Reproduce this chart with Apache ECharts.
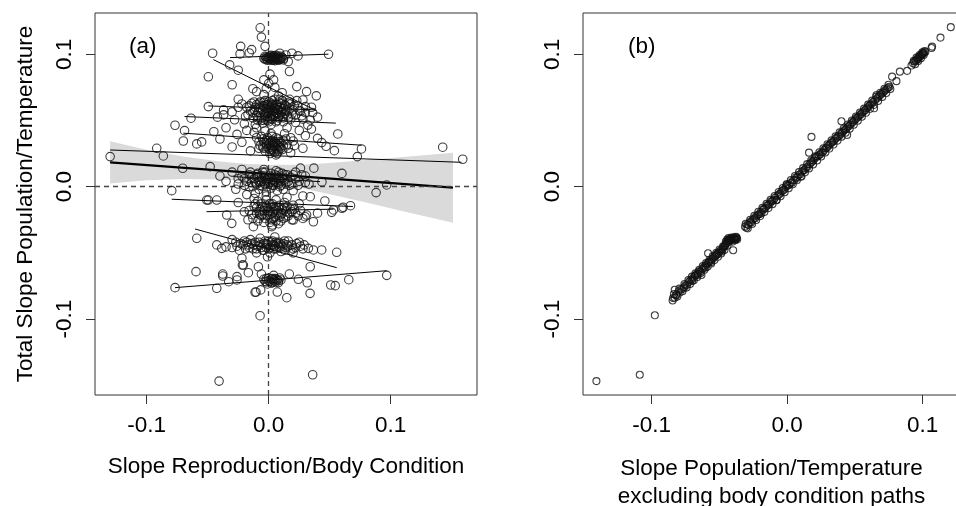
<!DOCTYPE html>
<html>
<head>
<meta charset="utf-8">
<script src="https://cdn.jsdelivr.net/npm/echarts@6/dist/echarts.min.js"></script>
<style>
html,body{margin:0;padding:0;background:#fff;}
#chart{width:956px;height:506px;}
</style>
</head>
<body>
<div id="chart"></div>
<script>
// ---------- tick labels ----------
const tickValues = [-0.1, 0.0, 0.1];
const panelLabels = ['(a)', '(b)'];
const yTitle = 'Total Slope Population/Temperature';
const xTitleA = 'Slope Reproduction/Body Condition';
const xTitleB = 'Slope Population/Temperature\nexcluding body condition paths';

// ---------- panel (a): points [slope reproduction/body condition, total slope] ----------
const groupTop = [
  [-0.007,0.120],[-0.006,0.113],[-0.003,0.106],[-0.046,0.1008],[-0.023,0.106],[-0.0235,0.1003],
  [-0.016,0.101],[-0.014,0.1035],[0.009,0.1008],[0.019,0.1008],[0.024,0.0988],[0.049,0.100],
  [0.012,0.0958],[0.016,0.0945],[0.017,0.087],[0.014,0.0995],
  [-0.004,0.097],[-0.002,0.098],[0.000,0.0965],[0.001,0.0985],[0.002,0.097],[0.003,0.0955],
  [0.004,0.098],[0.005,0.0965],[0.006,0.0975],[0.007,0.096],[0.008,0.0985],[0.009,0.097],
  [0.010,0.0965],[-0.001,0.0955],[0.002,0.0992],[0.004,0.0958],[0.006,0.0992],[-0.003,0.0985],
  [0.000,0.0978],[0.008,0.0955],[0.011,0.0975],[0.003,0.0968],
  [-0.002,0.0965],[0.001,0.0972],[0.003,0.0982],[0.005,0.0975],[0.007,0.0978],[0.009,0.0962],
  [0.001,0.0958],[0.006,0.0962],
  [-0.001,0.0975],[0.002,0.0962],[0.004,0.0988],[0.007,0.0968],[0.010,0.0985],[0.012,0.0968],
  [-0.003,0.0962],[0.005,0.0952]
];
const groupUpper = [
  [-0.032,0.092],[-0.025,0.088],[-0.0495,0.083],[-0.030,0.077],[-0.004,0.0807],[0.004,0.0807],
  [-0.002,0.074],[0.005,0.075],[0.011,0.071],[0.023,0.0756],[0.031,0.0718],[0.039,0.0686],
  [0.017,0.064],[-0.013,0.074],[-0.010,0.0718],[-0.025,0.066],[0.001,0.085],[0.000,0.078],
  [-0.004,0.0695],[0.008,0.0685],[0.028,0.0655],[0.035,0.060]
];
const group060 = [
  [-0.0495,0.0605],[-0.037,0.058],[-0.037,0.0542],[-0.0637,0.0517],[-0.042,0.0525],[-0.030,0.0565],
  [-0.028,0.0505],[-0.022,0.0625],[-0.020,0.0475],[0.034,0.0504],[0.036,0.056],[0.030,0.0605],
  [0.027,0.0535],[0.022,0.0485],[0.018,0.0625],[0.025,0.0575],[0.040,0.0525],[0.032,0.0465],
  [-0.017,0.0545],[-0.025,0.060],
  [-0.012,0.058],[-0.010,0.062],[-0.010,0.054],[-0.009,0.050],[-0.008,0.060],[-0.007,0.064],
  [-0.007,0.056],[-0.006,0.052],[-0.005,0.058],[-0.005,0.048],[-0.004,0.061],[-0.004,0.055],
  [-0.003,0.065],[-0.003,0.051],[-0.002,0.059],[-0.002,0.056],[-0.001,0.062],[-0.001,0.053],
  [0.000,0.058],[0.000,0.049],[0.001,0.060],[0.001,0.056],[0.002,0.063],[0.002,0.054],
  [0.003,0.058],[0.003,0.051],[0.004,0.061],[0.004,0.057],[0.005,0.054],[0.005,0.066],
  [0.006,0.059],[0.006,0.049],[0.007,0.062],[0.007,0.055],[0.008,0.058],[0.008,0.052],
  [0.009,0.060],[0.010,0.056],[0.010,0.063],[0.011,0.053],[0.012,0.059],[0.013,0.055],
  [0.014,0.061],[0.012,0.049],[-0.011,0.047],[0.015,0.058],[0.016,0.052],[-0.014,0.063],
  [-0.013,0.052],[-0.011,0.060],[-0.009,0.056],[-0.008,0.063],[-0.006,0.050],[-0.005,0.061],
  [-0.003,0.054],[-0.002,0.062],[-0.001,0.050],[0.000,0.055],[0.000,0.064],[0.001,0.052],
  [0.002,0.058],[0.003,0.062],[0.004,0.053],[0.005,0.059],[0.006,0.056],[0.007,0.050],
  [0.008,0.064],[0.009,0.054],[0.011,0.057],[0.013,0.062],[0.015,0.054],[0.017,0.059],
  [0.019,0.055],[0.021,0.061],[-0.015,0.057],[-0.018,0.060],[0.002,0.047],[0.009,0.066],
  [-0.019,0.053],[-0.016,0.061],[-0.013,0.056],[-0.012,0.064],[-0.009,0.052],[-0.007,0.059],
  [-0.004,0.064],[-0.004,0.050],[-0.001,0.057],[0.000,0.061],[0.002,0.051],[0.003,0.065],
  [0.004,0.055],[0.006,0.062],[0.007,0.058],[0.008,0.053],[0.010,0.060],[0.011,0.065],
  [0.012,0.052],[0.014,0.057],[0.016,0.063],[0.018,0.051],[0.020,0.058],[0.022,0.054],
  [0.024,0.061],[0.026,0.057],[0.028,0.051],[0.030,0.056],[0.017,0.066],[0.023,0.065]
];
const group030 = [
  [-0.0768,0.0464],[-0.069,0.0423],[-0.070,0.0345],[-0.059,0.0323],[-0.055,0.0338],[-0.045,0.0415],
  [-0.040,0.036],[-0.035,0.0445],[-0.030,0.030],[-0.026,0.0395],[-0.022,0.0335],[-0.018,0.0425],
  [-0.015,0.027],[0.0566,0.0398],[0.0434,0.0333],[0.076,0.0285],[0.0538,0.0272],[0.0726,0.0227],
  [0.030,0.0385],[0.025,0.0425],[0.020,0.0345],[0.035,0.0435],[0.028,0.029],[0.018,0.0255],
  [0.040,0.0365],[-0.010,0.0445],[0.015,0.0445],[0.047,0.0305],
  [-0.005,0.030],[-0.004,0.034],[-0.003,0.027],[-0.002,0.032],[-0.001,0.037],[0.000,0.029],
  [0.001,0.033],[0.001,0.025],[0.002,0.030],[0.003,0.035],[0.003,0.028],[0.004,0.031],
  [0.005,0.026],[0.005,0.034],[0.006,0.029],[0.007,0.032],[0.008,0.027],[0.008,0.036],
  [0.009,0.030],[0.010,0.033],[-0.006,0.038],[0.002,0.040],[-0.008,0.034],[0.011,0.028],
  [0.006,0.024],[-0.003,0.042],
  [-0.004,0.029],[-0.002,0.035],[0.000,0.032],[0.001,0.028],[0.002,0.034],[0.003,0.031],
  [0.004,0.027],[0.005,0.030],[0.006,0.033],[0.007,0.028],[0.009,0.034],[0.012,0.031],
  [0.014,0.036],[-0.007,0.031],[-0.010,0.037],[0.016,0.029],[0.013,0.040],[-0.012,0.041],
  [-0.008,0.029],[-0.005,0.036],[-0.002,0.030],[0.000,0.035],[0.002,0.027],[0.004,0.033],
  [0.006,0.037],[0.008,0.031],[0.010,0.029],[0.012,0.035],[0.015,0.032],[0.018,0.037],
  [0.021,0.031],[0.003,0.038],[0.007,0.025]
];
const group000 = [
  [-0.130,0.0227],[-0.0918,0.029],[-0.0864,0.0232],[-0.0705,0.0139],[-0.048,0.0151],[-0.0795,-0.003],
  [0.1426,0.0298],[0.159,0.0207],[0.088,-0.0045],[0.0967,0.0013],[0.0436,0.0036],[0.060,0.010],
  [0.037,0.014],
  [-0.040,0.008],[-0.035,0.004],[-0.030,0.011],[-0.027,-0.002],[-0.025,0.006],[-0.022,0.013],
  [-0.020,0.001],[-0.018,-0.006],[-0.016,0.009],[-0.014,0.003],[0.018,0.007],[0.020,-0.003],
  [0.022,0.011],[0.025,0.004],[0.028,-0.007],[0.030,0.008],[0.033,0.002],[0.026,0.014],
  [0.015,-0.008],[-0.012,-0.009],
  [-0.012,0.006],[-0.010,0.002],[-0.009,0.010],[-0.008,-0.002],[-0.007,0.005],[-0.006,0.008],
  [-0.005,0.000],[-0.004,0.004],[-0.003,0.011],[-0.002,-0.004],[-0.001,0.006],[0.000,0.002],
  [0.001,0.008],[0.002,-0.001],[0.003,0.005],[0.004,0.001],[0.005,0.009],[0.006,0.003],
  [0.007,-0.003],[0.008,0.006],[0.009,0.000],[0.010,0.004],[0.011,0.010],[0.012,-0.002],
  [0.013,0.005],[0.014,0.002],[-0.011,-0.005],[0.006,0.012],[-0.004,0.013],
  [-0.011,0.003],[-0.009,0.007],[-0.007,0.001],[-0.006,0.004],[-0.004,0.008],[-0.003,0.002],
  [-0.002,0.005],[0.000,0.006],[0.001,0.003],[0.002,0.007],[0.003,0.001],[0.004,0.005],
  [0.005,0.004],[0.007,0.008],[0.008,0.002],[0.009,0.005],[0.011,0.006],[0.013,0.009],
  [0.016,0.004],[-0.014,0.007],[-0.016,0.000],[0.019,0.002],[-0.020,0.006],[0.022,0.006],
  [-0.025,0.002],[-0.022,0.008],[-0.018,0.004],[-0.015,0.011],[-0.013,0.000],[-0.010,0.009],
  [-0.008,0.004],[-0.005,0.011],[-0.003,0.007],[-0.001,0.000],[0.002,0.010],[0.004,0.003],
  [0.006,0.007],[0.008,0.011],[0.010,0.001],[0.012,0.007],[0.015,0.009],[0.017,0.001],
  [0.020,0.009],[0.024,0.001],[0.027,0.009],[0.030,0.003]
];
const groupM020 = [
  [-0.0508,-0.0101],[-0.0426,-0.0101],[-0.0344,-0.0214],[-0.0303,-0.0277],[-0.0495,-0.0101],
  [0.046,-0.0108],[0.034,-0.0076],[0.0516,-0.0194],[0.060,-0.0163],[0.0298,-0.0227],[0.0189,-0.0189],
  [0.0202,-0.0252],[-0.0126,-0.0302],[0.0025,-0.0302],[0.061,-0.0156],[0.067,-0.0144],[0.053,-0.0176],
  [0.0366,-0.0265],[0.031,-0.0214],[-0.025,-0.012],[-0.020,-0.019],[-0.017,-0.025],[0.025,-0.013],
  [0.040,-0.020],
  [-0.012,-0.015],[-0.010,-0.020],[-0.009,-0.011],[-0.008,-0.024],[-0.007,-0.017],[-0.006,-0.013],
  [-0.005,-0.021],[-0.004,-0.027],[-0.003,-0.016],[-0.002,-0.010],[-0.001,-0.022],[0.000,-0.018],
  [0.001,-0.013],[0.002,-0.025],[0.003,-0.020],[0.004,-0.015],[0.005,-0.023],[0.006,-0.010],
  [0.007,-0.018],[0.008,-0.028],[0.009,-0.014],[0.010,-0.021],[0.011,-0.017],[0.012,-0.024],
  [0.013,-0.012],[0.014,-0.019],[0.015,-0.015],[0.003,-0.029],[-0.002,-0.007],[0.006,-0.026],
  [-0.010,-0.016],[-0.008,-0.019],[-0.006,-0.022],[-0.004,-0.018],[-0.002,-0.014],[-0.001,-0.019],
  [0.001,-0.021],[0.002,-0.016],[0.004,-0.019],[0.005,-0.017],[0.006,-0.021],[0.008,-0.016],
  [0.009,-0.023],[0.011,-0.020],[0.013,-0.016],[0.016,-0.022],[0.018,-0.017],[-0.014,-0.021],
  [0.020,-0.014],[0.022,-0.020],
  [-0.016,-0.018],[-0.013,-0.024],[-0.011,-0.013],[-0.009,-0.026],[-0.007,-0.021],[-0.005,-0.015],
  [-0.003,-0.024],[-0.001,-0.016],[0.001,-0.027],[0.003,-0.013],[0.004,-0.024],[0.006,-0.015],
  [0.008,-0.020],[0.010,-0.026],[0.012,-0.014],[0.014,-0.023],[0.017,-0.020],[0.019,-0.025],
  [0.021,-0.017],[0.024,-0.022],[0.026,-0.018],[0.028,-0.024]
];
const groupM045 = [
  [-0.059,-0.039],[-0.0426,-0.044],[-0.0385,-0.0466],[-0.022,-0.0541],[-0.0208,-0.0592],[-0.0085,-0.0605],
  [0.0557,-0.0496],[0.0434,-0.0478],[0.0325,-0.0466],[0.034,-0.0605],[0.0366,-0.0478],[-0.030,-0.040],
  [-0.026,-0.045],[0.025,-0.042],[0.020,-0.050],[0.028,-0.047],[-0.035,-0.0455],
  [-0.020,-0.041],[-0.017,-0.044],[-0.015,-0.040],[-0.013,-0.047],[-0.011,-0.042],[-0.009,-0.045],
  [-0.007,-0.039],[-0.005,-0.048],[-0.004,-0.043],[-0.002,-0.046],[0.000,-0.041],[0.001,-0.050],
  [0.003,-0.044],[0.004,-0.047],[0.006,-0.042],[0.008,-0.045],[0.010,-0.049],[0.012,-0.043],
  [0.014,-0.046],[0.016,-0.041],[0.018,-0.048],[-0.001,-0.053],[0.005,-0.038],[-0.010,-0.050],
  [-0.016,-0.046],[-0.012,-0.044],[-0.008,-0.042],[-0.006,-0.046],[-0.003,-0.041],[-0.001,-0.044],
  [0.001,-0.046],[0.002,-0.042],[0.004,-0.044],[0.006,-0.047],[0.007,-0.043],[0.009,-0.046],
  [0.011,-0.045],[0.013,-0.048],[0.015,-0.044],[0.019,-0.044],[0.022,-0.046],[-0.019,-0.047],
  [-0.023,-0.043],
  [-0.030,-0.046],[-0.027,-0.042],[-0.024,-0.048],[-0.021,-0.044],[-0.018,-0.042],[-0.014,-0.043],
  [-0.010,-0.047],[-0.007,-0.044],[-0.004,-0.048],[-0.002,-0.043],[0.000,-0.047],[0.003,-0.041],
  [0.005,-0.045],[0.008,-0.042],[0.010,-0.044],[0.013,-0.041],[0.016,-0.045],[0.020,-0.047],
  [0.023,-0.043],[0.026,-0.045],[0.029,-0.044]
];
const groupM070 = [
  [-0.0596,-0.0642],[-0.0768,-0.0763],[-0.0426,-0.0768],[-0.0377,-0.066],[-0.0377,-0.0675],[-0.0328,-0.0718],
  [-0.026,-0.0705],[-0.0216,-0.0592],[-0.0167,-0.065],[-0.0104,-0.0796],[-0.0066,-0.078],[-0.0071,-0.0975],
  [0.007,-0.0796],[0.0148,-0.0839],[0.0169,-0.066],[0.0243,-0.070],[0.0316,-0.0726],[0.0339,-0.0806],
  [0.0508,-0.0743],[0.0545,-0.0748],[0.0656,-0.0703],[0.0967,-0.067],[0.036,-0.1421],[-0.0407,-0.1469],
  [-0.026,-0.068],[-0.0112,-0.0798],
  [-0.004,-0.070],[-0.002,-0.072],[0.000,-0.069],[0.001,-0.0715],[0.002,-0.070],[0.003,-0.0725],
  [0.004,-0.0705],[0.005,-0.0695],[0.006,-0.072],[0.007,-0.0705],[0.008,-0.071],[-0.001,-0.0735],
  [0.004,-0.067],[0.009,-0.069],[-0.006,-0.066],
  [-0.002,-0.0695],[0.000,-0.0712],[0.002,-0.0728],[0.003,-0.0695],[0.005,-0.0715],[0.006,-0.0700],
  [0.008,-0.0725],[0.010,-0.0705],[-0.003,-0.0715]
];

// per-group fitted lines: [[x1,y1],[x2,y2]]
const groupLines = [
  [[-0.0317,0.0975],[0.0489,0.1001]],
  [[-0.0454,0.0960],[0.0390,0.0574]],
  [[-0.0495,0.0610],[0.0380,0.0580]],
  [[-0.0690,0.0530],[0.0550,0.0480]],
  [[-0.0700,0.0404],[0.0762,0.0313]],
  [[-0.1300,0.0277],[0.1580,0.0184]],
  [[-0.0290,0.0076],[0.0420,0.0038]],
  [[-0.0795,-0.0095],[0.0690,-0.0150]],
  [[-0.0510,-0.0189],[0.0530,-0.0170]],
  [[-0.0604,-0.0320],[0.0557,-0.0612]],
  [[-0.0768,-0.0763],[0.0967,-0.0635]]
];

// overall fit and its confidence band
const fitX = [-0.130, 0.151];
const fitY = [0.0184, -0.0008];
const bandX    = [-0.130, -0.100, -0.070, -0.040, -0.020, 0.000, 0.026, 0.050, 0.080, 0.110, 0.151];
const bandLow  = [0.0024, 0.0049, 0.0058, 0.0055, 0.0045, 0.0025, -0.0010, -0.0057, -0.0119, -0.0185, -0.0273];
const bandHigh = [0.0344, 0.0279, 0.0228, 0.0191, 0.0173, 0.0165, 0.0166, 0.0179, 0.0201, 0.0225, 0.0257];

// ---------- panel (b): points [slope excluding body condition paths, total slope] ----------
const bOutliers = [[-0.0976,-0.0972],[-0.1087,-0.1421],[-0.1407,-0.1469]];
const bLower = [
  [-0.0841,-0.0841],[-0.0829,-0.0779],[-0.0829,-0.0839],[-0.0815,-0.0815],[-0.0800,-0.0790],[-0.0792,-0.0800],
  [-0.0780,-0.0775],[-0.0765,-0.0770],[-0.0750,-0.0745],[-0.0738,-0.0742],[-0.0725,-0.0720],[-0.0712,-0.0706],
  [-0.0700,-0.0698],[-0.0690,-0.0685],[-0.0680,-0.0672],[-0.0670,-0.0668],[-0.0660,-0.0655],[-0.0650,-0.0640],
  [-0.0640,-0.0642],[-0.0632,-0.0667],[-0.0625,-0.0620],[-0.0615,-0.0612],[-0.0605,-0.0598],[-0.0595,-0.0590],
  [-0.0583,-0.0503],[-0.0583,-0.0575],[-0.0575,-0.0568],[-0.0565,-0.0560],[-0.0555,-0.0548],[-0.0545,-0.0540],
  [-0.0535,-0.0528],[-0.0525,-0.0520],[-0.0515,-0.0508],[-0.0505,-0.0500],[-0.0495,-0.0488],[-0.0485,-0.0478],
  [-0.0475,-0.0470],[-0.0468,-0.0455],[-0.0460,-0.0450],[-0.0455,-0.0440],[-0.0450,-0.0430],[-0.0445,-0.0425],
  [-0.0440,-0.0418],[-0.0435,-0.0410],[-0.0430,-0.0402],[-0.0425,-0.0398],[-0.0420,-0.0405],[-0.0415,-0.0395],
  [-0.0410,-0.0400],[-0.0405,-0.0392],[-0.0400,-0.0398],[-0.0395,-0.0393],[-0.0390,-0.0396],[-0.0385,-0.0392],
  [-0.0380,-0.0390],[-0.0375,-0.0394],[-0.0398,-0.0480],[-0.0440,-0.0445],[-0.0480,-0.0490],[-0.0520,-0.0515],
  [-0.0560,-0.0570],[-0.0600,-0.0610],[-0.0660,-0.0665],[-0.0700,-0.0712],[-0.0760,-0.0760],[-0.0820,-0.0820],
  [-0.0845,-0.0860],[-0.0835,-0.0812],[-0.0810,-0.0830],[-0.0795,-0.0770],[-0.0772,-0.0790],[-0.0757,-0.0735],
  [-0.0742,-0.0762],[-0.0728,-0.0705],[-0.0716,-0.0735],[-0.0702,-0.0680],[-0.0688,-0.0708],[-0.0676,-0.0655],
  [-0.0662,-0.0682],[-0.0648,-0.0628],[-0.0636,-0.0652],[-0.0622,-0.0600],[-0.0610,-0.0628],[-0.0598,-0.0578],
  [-0.0586,-0.0604],[-0.0572,-0.0552],[-0.0560,-0.0580],[-0.0548,-0.0525],[-0.0536,-0.0555],[-0.0522,-0.0500],
  [-0.0510,-0.0530],[-0.0498,-0.0475],[-0.0486,-0.0505],[-0.0472,-0.0450],[-0.0462,-0.0478],[-0.0452,-0.0415],
  [-0.0442,-0.0400],[-0.0432,-0.0388],[-0.0422,-0.0412],[-0.0412,-0.0385],[-0.0402,-0.0415],[-0.0392,-0.0382],
  [-0.0382,-0.0405],[-0.0372,-0.0385],[-0.0368,-0.0398],[-0.0378,-0.0378]
];
const bUpper = [
  [-0.0310,-0.0302],[-0.0300,-0.0310],[-0.0292,-0.0285],[-0.0285,-0.0290],[-0.0275,-0.0268],[-0.0265,-0.0270],
  [-0.0255,-0.0250],[-0.0245,-0.0240],[-0.0235,-0.0238],[-0.0225,-0.0220],[-0.0215,-0.0212],[-0.0205,-0.0208],
  [-0.0195,-0.0192],[-0.0189,-0.0201],[-0.0180,-0.0175],[-0.0170,-0.0168],[-0.0160,-0.0162],[-0.0150,-0.0145],
  [-0.0140,-0.0138],[-0.0130,-0.0132],[-0.0120,-0.0115],[-0.0110,-0.0108],[-0.0100,-0.0102],[-0.0090,-0.0085],
  [-0.0078,-0.0101],[-0.0070,-0.0068],[-0.0060,-0.0058],[-0.0050,-0.0052],[-0.0040,-0.0035],[-0.0030,-0.0028],
  [-0.0020,-0.0022],[-0.0010,-0.0005],[-0.0004,0.0013],[0.0005,0.0008],[0.0015,0.0012],[0.0025,0.0028],
  [0.0035,0.0030],[0.0045,0.0048],[0.0055,0.0050],[0.0065,0.0068],[0.0075,0.0070],[0.0085,0.0090],
  [0.0095,0.0092],[0.0106,0.0076],[0.0110,0.0115],[0.0120,0.0122],[0.0130,0.0128],[0.0140,0.0145],
  [0.0150,0.0148],[0.0162,0.0257],[0.0165,0.0170],[0.0175,0.0178],[0.0180,0.0376],[0.0185,0.0190],
  [0.0195,0.0200],[0.0205,0.0215],[0.0215,0.0225],[0.0225,0.0230],[0.0235,0.0238],[0.0245,0.0245],
  [0.0255,0.0258],[0.0265,0.0262],[0.0275,0.0278],[0.0285,0.0290],[0.0295,0.0295],[0.0305,0.0310],
  [0.0315,0.0318],[0.0325,0.0330],[0.0335,0.0338],[0.0345,0.0345],[0.0355,0.0360],[0.0365,0.0370],
  [0.0375,0.0378],[0.0385,0.0385],[0.0395,0.0398],[0.0401,0.0494],[0.0405,0.0408],[0.0415,0.0418],
  [0.0425,0.0428],[0.0435,0.0435],[0.0443,0.0391],[0.0445,0.0448],[0.0455,0.0458],[0.0465,0.0468],
  [0.0475,0.0478],[0.0485,0.0488],[0.0495,0.0500],[0.0505,0.0508],[0.0515,0.0520],[0.0525,0.0528],
  [0.0535,0.0538],[0.0545,0.0548],[0.0555,0.0560],[0.0565,0.0568],[0.0575,0.0578],[0.0585,0.0590],
  [0.0595,0.0598],[0.0605,0.0610],[0.0615,0.0620],[0.0625,0.0628],[0.0635,0.0640],[0.0642,0.0592],
  [0.0650,0.0655],[0.0660,0.0693],[0.0665,0.0668],[0.0675,0.0680],[0.0685,0.0690],[0.0695,0.0700],
  [0.0705,0.0710],[0.0715,0.0718],[0.0725,0.0728],[0.0735,0.0738],[0.0745,0.0748],[0.0755,0.0755],
  [-0.0305,-0.0280],[-0.0290,-0.0315],[-0.0272,-0.0250],[-0.0258,-0.0282],[-0.0242,-0.0220],[-0.0228,-0.0252],
  [-0.0212,-0.0190],[-0.0198,-0.0222],[-0.0182,-0.0160],[-0.0168,-0.0192],[-0.0152,-0.0130],[-0.0138,-0.0162],
  [-0.0122,-0.0100],[-0.0108,-0.0132],[-0.0092,-0.0070],[-0.0078,-0.0102],[-0.0062,-0.0040],[-0.0048,-0.0072],
  [-0.0032,-0.0010],[-0.0018,-0.0042],[-0.0002,0.0020],[0.0012,-0.0012],[0.0028,0.0050],[0.0042,0.0018],
  [0.0058,0.0080],[0.0072,0.0048],[0.0088,0.0110],[0.0102,0.0078],[0.0118,0.0140],[0.0132,0.0108],
  [0.0148,0.0170],[0.0162,0.0138],[0.0178,0.0200],[0.0192,0.0168],[0.0208,0.0230],[0.0222,0.0198],
  [0.0238,0.0260],[0.0252,0.0228],[0.0268,0.0290],[0.0282,0.0258],[0.0298,0.0320],[0.0312,0.0288],
  [0.0328,0.0350],[0.0342,0.0318],[0.0358,0.0380],[0.0372,0.0348],[0.0388,0.0410],[0.0402,0.0378],
  [0.0418,0.0440],[0.0432,0.0408],[0.0448,0.0470],[0.0462,0.0438],[0.0478,0.0500],[0.0492,0.0468],
  [0.0508,0.0530],[0.0522,0.0498],[0.0538,0.0560],[0.0552,0.0528],[0.0568,0.0590],[0.0582,0.0558],
  [0.0598,0.0620],[0.0612,0.0588],[0.0628,0.0650],[0.0642,0.0618],[0.0658,0.0680],[0.0672,0.0648],
  [0.0688,0.0710],[0.0702,0.0678],[0.0718,0.0740],[0.0732,0.0708],[0.0748,0.0770],[0.0762,0.0738]
];
const bTop = [
  [0.0775,0.0831],[0.0807,0.0797],[0.0832,0.0869],[0.0886,0.0875],[0.0918,0.0915],[0.0930,0.0932],
  [0.0940,0.0945],[0.0950,0.0952],[0.0960,0.0965],[0.0965,0.0962],[0.0970,0.0975],[0.0975,0.0978],
  [0.0980,0.0985],[0.0985,0.0990],[0.0990,0.0995],[0.0995,0.1000],[0.1000,0.1005],[0.1005,0.1010],
  [0.1010,0.1012],[0.1020,0.1018],[0.1066,0.1048],[0.1070,0.1058],[0.1132,0.1126],[0.1208,0.1205],
  [0.0935,0.0950],[0.0945,0.0925],[0.0955,0.0975],[0.0968,0.0950],[0.0978,0.0995],[0.0988,0.0970],
  [0.0998,0.1015],[0.1008,0.0995],[0.1015,0.1025]
];

// ---------- chart ----------
const FONT = 'Liberation Sans, Arial, sans-serif';
const FS = 22.5;
const axisCol = '#333';

const chart = echarts.init(document.getElementById('chart'), null, {renderer: 'canvas'});

const pointsA = [].concat(groupTop, groupUpper, group060, group030, group000, groupM020, groupM045, groupM070);
const pointsB = [].concat(bOutliers, bLower, bUpper, bTop);

function xAxisCfg(gridIndex, min, max, name, gap) {
  return {
    type: 'value', gridIndex, min, max,
    name, nameLocation: 'middle', nameGap: gap,
    nameTextStyle: {fontFamily: FONT, fontSize: FS, color: '#000', lineHeight: 28},
    axisLine: {show: false, onZero: false},
    axisTick: {show: true, length: 9, inside: false, lineStyle: {color: axisCol, width: 1}, customValues: tickValues},
    axisLabel: {show: true, margin: 19, fontFamily: FONT, fontSize: FS, color: '#000',
      customValues: tickValues, formatter: v => v.toFixed(1)},
    splitLine: {show: false}
  };
}
function yAxisCfg(gridIndex, name) {
  return {
    type: 'value', gridIndex, min: -0.1574, max: 0.1312,
    name, nameLocation: 'middle', nameGap: 58, nameRotate: 90,
    nameTextStyle: {fontFamily: FONT, fontSize: FS, color: '#000'},
    axisLine: {show: false, onZero: false},
    axisTick: {show: true, length: 9, inside: false, lineStyle: {color: axisCol, width: 1}, customValues: tickValues},
    axisLabel: {show: true, margin: 19, rotate: 90, fontFamily: FONT, fontSize: FS, color: '#000',
      customValues: tickValues, formatter: v => v.toFixed(1)},
    splitLine: {show: false}
  };
}

const option = {
  animation: false,
  backgroundColor: '#fff',
  grid: [
    {left: 95, top: 13, width: 382, height: 382, show: true, borderColor: axisCol, borderWidth: 1,
      backgroundColor: 'transparent', containLabel: false, outerBoundsMode: 'none'},
    {left: 583, top: 13, width: 377, height: 382, show: true, borderColor: axisCol, borderWidth: 1,
      backgroundColor: 'transparent', containLabel: false, outerBoundsMode: 'none'}
  ],
  xAxis: [
    xAxisCfg(0, -0.1424, 0.1707, xTitleA, 58),
    xAxisCfg(1, -0.1506, 0.1276, xTitleB, 60)
  ],
  yAxis: [
    yAxisCfg(0, yTitle),
    yAxisCfg(1, '')
  ],
  graphic: [
    {type: 'text', left: 129, top: 35, style: {text: panelLabels[0], font: FS + 'px ' + FONT, fill: '#000'}},
    {type: 'text', left: 628, top: 35, style: {text: panelLabels[1], font: FS + 'px ' + FONT, fill: '#000'}}
  ],
  series: [
    {
      type: 'custom', xAxisIndex: 0, yAxisIndex: 0, z: 1, silent: true,
      data: [[bandX[0], bandLow[0]]],
      renderItem: function (params, api) {
        const pts = [];
        for (let i = 0; i < bandX.length; i++) pts.push(api.coord([bandX[i], bandHigh[i]]));
        for (let i = bandX.length - 1; i >= 0; i--) pts.push(api.coord([bandX[i], bandLow[i]]));
        return {type: 'polygon', shape: {points: pts}, style: {fill: '#dadada', stroke: null}};
      },
      markLine: {
        silent: true, symbol: ['none', 'none'], label: {show: false},
        lineStyle: {color: '#444', type: [5, 4], width: 1.3},
        data: [{xAxis: 0}, {yAxis: 0}]
      }
    },
    {
      type: 'lines', coordinateSystem: 'cartesian2d', xAxisIndex: 0, yAxisIndex: 0, z: 3, silent: true,
      lineStyle: {color: '#000', width: 1, opacity: 1, curveness: 0},
      data: groupLines.map(seg => ({coords: seg}))
    },
    {
      type: 'line', xAxisIndex: 0, yAxisIndex: 0, z: 4, silent: true, symbol: 'none',
      lineStyle: {color: '#000', width: 2.3},
      data: fitX.map((x, i) => [x, fitY[i]])
    },
    {
      type: 'scatter', xAxisIndex: 0, yAxisIndex: 0, z: 5, silent: true,
      symbol: 'circle', symbolSize: 8.5,
      itemStyle: {color: 'rgba(0,0,0,0)', borderColor: '#111', borderWidth: 1.1},
      data: pointsA
    },
    {
      type: 'scatter', xAxisIndex: 1, yAxisIndex: 1, z: 5, silent: true,
      symbol: 'circle', symbolSize: 7,
      itemStyle: {color: 'rgba(0,0,0,0)', borderColor: '#111', borderWidth: 1.1},
      data: pointsB
    }
  ]
};
chart.setOption(option);
</script>
</body>
</html>
